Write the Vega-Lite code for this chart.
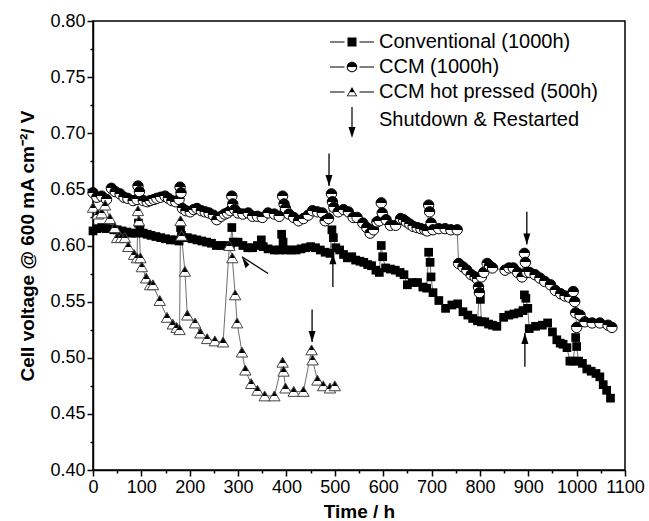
{
  "$schema": "https://vega.github.io/schema/vega-lite/v6.json",
  "width": 532,
  "height": 449,
  "autosize": {"type": "none"},
  "padding": {"left": 93, "top": 21, "right": 24, "bottom": 51},
  "background": "white",
  "config": {
    "font": "Liberation Sans",
    "view": {"stroke": "black", "strokeWidth": 1.5},
    "axis": {
      "grid": false,
      "domainColor": "black",
      "domainWidth": 1.5,
      "tickColor": "black",
      "tickWidth": 1.5,
      "labelFont": "Liberation Sans",
      "labelFontSize": 18,
      "labelColor": "black",
      "titleFont": "Liberation Sans",
      "titleFontSize": 19,
      "titleFontWeight": "bold",
      "titleColor": "black"
    }
  },
  "datasets": {
    "volt": [
      {"series":"Conventional (1000h)","t":0,"v":0.613},{"series":"Conventional (1000h)","t":8,"v":0.615},{"series":"Conventional (1000h)","t":18,"v":0.616},{"series":"Conventional (1000h)","t":27,"v":0.615},{"series":"Conventional (1000h)","t":35,"v":0.615},{"series":"Conventional (1000h)","t":43,"v":0.614},{"series":"Conventional (1000h)","t":50,"v":0.614},{"series":"Conventional (1000h)","t":60,"v":0.613},{"series":"Conventional (1000h)","t":70,"v":0.612},{"series":"Conventional (1000h)","t":80,"v":0.611},{"series":"Conventional (1000h)","t":88,"v":0.611},{"series":"Conventional (1000h)","t":94,"v":0.620},{"series":"Conventional (1000h)","t":97,"v":0.615},{"series":"Conventional (1000h)","t":104,"v":0.611},{"series":"Conventional (1000h)","t":112,"v":0.610},{"series":"Conventional (1000h)","t":120,"v":0.609},{"series":"Conventional (1000h)","t":130,"v":0.608},{"series":"Conventional (1000h)","t":140,"v":0.607},{"series":"Conventional (1000h)","t":150,"v":0.606},{"series":"Conventional (1000h)","t":160,"v":0.605},{"series":"Conventional (1000h)","t":170,"v":0.605},{"series":"Conventional (1000h)","t":178,"v":0.604},{"series":"Conventional (1000h)","t":181,"v":0.616},{"series":"Conventional (1000h)","t":183,"v":0.609},{"series":"Conventional (1000h)","t":186,"v":0.607},{"series":"Conventional (1000h)","t":195,"v":0.607},{"series":"Conventional (1000h)","t":205,"v":0.606},{"series":"Conventional (1000h)","t":215,"v":0.605},{"series":"Conventional (1000h)","t":225,"v":0.604},{"series":"Conventional (1000h)","t":235,"v":0.603},{"series":"Conventional (1000h)","t":245,"v":0.602},{"series":"Conventional (1000h)","t":255,"v":0.600},{"series":"Conventional (1000h)","t":265,"v":0.600},{"series":"Conventional (1000h)","t":275,"v":0.600},{"series":"Conventional (1000h)","t":284,"v":0.599},{"series":"Conventional (1000h)","t":287,"v":0.616},{"series":"Conventional (1000h)","t":290,"v":0.603},{"series":"Conventional (1000h)","t":300,"v":0.603},{"series":"Conventional (1000h)","t":310,"v":0.600},{"series":"Conventional (1000h)","t":320,"v":0.598},{"series":"Conventional (1000h)","t":330,"v":0.598},{"series":"Conventional (1000h)","t":340,"v":0.600},{"series":"Conventional (1000h)","t":348,"v":0.605},{"series":"Conventional (1000h)","t":352,"v":0.599},{"series":"Conventional (1000h)","t":362,"v":0.597},{"series":"Conventional (1000h)","t":375,"v":0.596},{"series":"Conventional (1000h)","t":385,"v":0.596},{"series":"Conventional (1000h)","t":390,"v":0.610},{"series":"Conventional (1000h)","t":393,"v":0.603},{"series":"Conventional (1000h)","t":400,"v":0.596},{"series":"Conventional (1000h)","t":410,"v":0.596},{"series":"Conventional (1000h)","t":420,"v":0.596},{"series":"Conventional (1000h)","t":430,"v":0.597},{"series":"Conventional (1000h)","t":440,"v":0.598},{"series":"Conventional (1000h)","t":450,"v":0.599},{"series":"Conventional (1000h)","t":460,"v":0.598},{"series":"Conventional (1000h)","t":470,"v":0.596},{"series":"Conventional (1000h)","t":480,"v":0.594},{"series":"Conventional (1000h)","t":490,"v":0.593},{"series":"Conventional (1000h)","t":494,"v":0.614},{"series":"Conventional (1000h)","t":497,"v":0.607},{"series":"Conventional (1000h)","t":502,"v":0.598},{"series":"Conventional (1000h)","t":510,"v":0.596},{"series":"Conventional (1000h)","t":518,"v":0.592},{"series":"Conventional (1000h)","t":526,"v":0.589},{"series":"Conventional (1000h)","t":535,"v":0.590},{"series":"Conventional (1000h)","t":543,"v":0.587},{"series":"Conventional (1000h)","t":552,"v":0.586},{"series":"Conventional (1000h)","t":560,"v":0.585},{"series":"Conventional (1000h)","t":568,"v":0.583},{"series":"Conventional (1000h)","t":576,"v":0.582},{"series":"Conventional (1000h)","t":585,"v":0.578},{"series":"Conventional (1000h)","t":592,"v":0.576},{"series":"Conventional (1000h)","t":596,"v":0.600},{"series":"Conventional (1000h)","t":599,"v":0.590},{"series":"Conventional (1000h)","t":605,"v":0.580},{"series":"Conventional (1000h)","t":615,"v":0.579},{"series":"Conventional (1000h)","t":625,"v":0.578},{"series":"Conventional (1000h)","t":635,"v":0.576},{"series":"Conventional (1000h)","t":643,"v":0.574},{"series":"Conventional (1000h)","t":650,"v":0.565},{"series":"Conventional (1000h)","t":660,"v":0.567},{"series":"Conventional (1000h)","t":671,"v":0.567},{"series":"Conventional (1000h)","t":682,"v":0.563},{"series":"Conventional (1000h)","t":690,"v":0.562},{"series":"Conventional (1000h)","t":694,"v":0.594},{"series":"Conventional (1000h)","t":697,"v":0.585},{"series":"Conventional (1000h)","t":699,"v":0.572},{"series":"Conventional (1000h)","t":703,"v":0.558},{"series":"Conventional (1000h)","t":715,"v":0.551},{"series":"Conventional (1000h)","t":729,"v":0.544},{"series":"Conventional (1000h)","t":742,"v":0.547},{"series":"Conventional (1000h)","t":754,"v":0.548},{"series":"Conventional (1000h)","t":765,"v":0.541},{"series":"Conventional (1000h)","t":775,"v":0.538},{"series":"Conventional (1000h)","t":785,"v":0.535},{"series":"Conventional (1000h)","t":795,"v":0.533},{"series":"Conventional (1000h)","t":799,"v":0.559},{"series":"Conventional (1000h)","t":801,"v":0.552},{"series":"Conventional (1000h)","t":803,"v":0.532},{"series":"Conventional (1000h)","t":810,"v":0.532},{"series":"Conventional (1000h)","t":818,"v":0.530},{"series":"Conventional (1000h)","t":826,"v":0.529},{"series":"Conventional (1000h)","t":835,"v":0.528},{"series":"Conventional (1000h)","t":849,"v":0.536},{"series":"Conventional (1000h)","t":860,"v":0.538},{"series":"Conventional (1000h)","t":870,"v":0.539},{"series":"Conventional (1000h)","t":880,"v":0.540},{"series":"Conventional (1000h)","t":889,"v":0.542},{"series":"Conventional (1000h)","t":892,"v":0.556},{"series":"Conventional (1000h)","t":895,"v":0.553},{"series":"Conventional (1000h)","t":899,"v":0.544},{"series":"Conventional (1000h)","t":902,"v":0.526},{"series":"Conventional (1000h)","t":915,"v":0.528},{"series":"Conventional (1000h)","t":929,"v":0.529},{"series":"Conventional (1000h)","t":940,"v":0.531},{"series":"Conventional (1000h)","t":950,"v":0.523},{"series":"Conventional (1000h)","t":959,"v":0.516},{"series":"Conventional (1000h)","t":966,"v":0.513},{"series":"Conventional (1000h)","t":972,"v":0.512},{"series":"Conventional (1000h)","t":980,"v":0.509},{"series":"Conventional (1000h)","t":986,"v":0.497},{"series":"Conventional (1000h)","t":993,"v":0.497},{"series":"Conventional (1000h)","t":998,"v":0.518},{"series":"Conventional (1000h)","t":1000,"v":0.510},{"series":"Conventional (1000h)","t":1004,"v":0.497},{"series":"Conventional (1000h)","t":1012,"v":0.495},{"series":"Conventional (1000h)","t":1021,"v":0.490},{"series":"Conventional (1000h)","t":1030,"v":0.488},{"series":"Conventional (1000h)","t":1040,"v":0.486},{"series":"Conventional (1000h)","t":1048,"v":0.483},{"series":"Conventional (1000h)","t":1055,"v":0.476},{"series":"Conventional (1000h)","t":1062,"v":0.471},{"series":"Conventional (1000h)","t":1070,"v":0.464},
      {"series":"CCM (1000h)","t":0,"v":0.647},{"series":"CCM (1000h)","t":8,"v":0.643},{"series":"CCM (1000h)","t":18,"v":0.644},{"series":"CCM (1000h)","t":28,"v":0.641},{"series":"CCM (1000h)","t":38,"v":0.651},{"series":"CCM (1000h)","t":46,"v":0.648},{"series":"CCM (1000h)","t":56,"v":0.646},{"series":"CCM (1000h)","t":64,"v":0.643},{"series":"CCM (1000h)","t":72,"v":0.642},{"series":"CCM (1000h)","t":83,"v":0.640},{"series":"CCM (1000h)","t":91,"v":0.641},{"series":"CCM (1000h)","t":93,"v":0.653},{"series":"CCM (1000h)","t":96,"v":0.648},{"series":"CCM (1000h)","t":104,"v":0.640},{"series":"CCM (1000h)","t":112,"v":0.639},{"series":"CCM (1000h)","t":118,"v":0.640},{"series":"CCM (1000h)","t":126,"v":0.641},{"series":"CCM (1000h)","t":132,"v":0.642},{"series":"CCM (1000h)","t":140,"v":0.643},{"series":"CCM (1000h)","t":149,"v":0.644},{"series":"CCM (1000h)","t":156,"v":0.642},{"series":"CCM (1000h)","t":163,"v":0.640},{"series":"CCM (1000h)","t":171,"v":0.639},{"series":"CCM (1000h)","t":178,"v":0.641},{"series":"CCM (1000h)","t":180,"v":0.652},{"series":"CCM (1000h)","t":182,"v":0.647},{"series":"CCM (1000h)","t":185,"v":0.633},{"series":"CCM (1000h)","t":192,"v":0.631},{"series":"CCM (1000h)","t":201,"v":0.630},{"series":"CCM (1000h)","t":208,"v":0.632},{"series":"CCM (1000h)","t":215,"v":0.633},{"series":"CCM (1000h)","t":224,"v":0.631},{"series":"CCM (1000h)","t":232,"v":0.630},{"series":"CCM (1000h)","t":240,"v":0.629},{"series":"CCM (1000h)","t":249,"v":0.627},{"series":"CCM (1000h)","t":256,"v":0.623},{"series":"CCM (1000h)","t":265,"v":0.626},{"series":"CCM (1000h)","t":272,"v":0.628},{"series":"CCM (1000h)","t":278,"v":0.629},{"series":"CCM (1000h)","t":284,"v":0.631},{"series":"CCM (1000h)","t":287,"v":0.644},{"series":"CCM (1000h)","t":289,"v":0.637},{"series":"CCM (1000h)","t":293,"v":0.632},{"series":"CCM (1000h)","t":300,"v":0.629},{"series":"CCM (1000h)","t":310,"v":0.628},{"series":"CCM (1000h)","t":321,"v":0.629},{"series":"CCM (1000h)","t":330,"v":0.626},{"series":"CCM (1000h)","t":340,"v":0.626},{"series":"CCM (1000h)","t":350,"v":0.625},{"series":"CCM (1000h)","t":362,"v":0.629},{"series":"CCM (1000h)","t":375,"v":0.628},{"series":"CCM (1000h)","t":385,"v":0.626},{"series":"CCM (1000h)","t":392,"v":0.644},{"series":"CCM (1000h)","t":395,"v":0.637},{"series":"CCM (1000h)","t":398,"v":0.633},{"series":"CCM (1000h)","t":405,"v":0.628},{"series":"CCM (1000h)","t":415,"v":0.625},{"series":"CCM (1000h)","t":425,"v":0.622},{"series":"CCM (1000h)","t":435,"v":0.624},{"series":"CCM (1000h)","t":445,"v":0.627},{"series":"CCM (1000h)","t":454,"v":0.631},{"series":"CCM (1000h)","t":464,"v":0.630},{"series":"CCM (1000h)","t":474,"v":0.629},{"series":"CCM (1000h)","t":480,"v":0.622},{"series":"CCM (1000h)","t":487,"v":0.624},{"series":"CCM (1000h)","t":493,"v":0.646},{"series":"CCM (1000h)","t":495,"v":0.639},{"series":"CCM (1000h)","t":498,"v":0.634},{"series":"CCM (1000h)","t":507,"v":0.630},{"series":"CCM (1000h)","t":518,"v":0.632},{"series":"CCM (1000h)","t":528,"v":0.630},{"series":"CCM (1000h)","t":538,"v":0.625},{"series":"CCM (1000h)","t":546,"v":0.625},{"series":"CCM (1000h)","t":558,"v":0.620},{"series":"CCM (1000h)","t":566,"v":0.616},{"series":"CCM (1000h)","t":573,"v":0.611},{"series":"CCM (1000h)","t":580,"v":0.614},{"series":"CCM (1000h)","t":587,"v":0.621},{"series":"CCM (1000h)","t":592,"v":0.622},{"series":"CCM (1000h)","t":596,"v":0.638},{"series":"CCM (1000h)","t":598,"v":0.629},{"series":"CCM (1000h)","t":606,"v":0.623},{"series":"CCM (1000h)","t":615,"v":0.618},{"series":"CCM (1000h)","t":626,"v":0.618},{"series":"CCM (1000h)","t":636,"v":0.624},{"series":"CCM (1000h)","t":642,"v":0.623},{"series":"CCM (1000h)","t":648,"v":0.621},{"series":"CCM (1000h)","t":655,"v":0.619},{"series":"CCM (1000h)","t":662,"v":0.617},{"series":"CCM (1000h)","t":670,"v":0.616},{"series":"CCM (1000h)","t":678,"v":0.615},{"series":"CCM (1000h)","t":686,"v":0.614},{"series":"CCM (1000h)","t":691,"v":0.613},{"series":"CCM (1000h)","t":694,"v":0.636},{"series":"CCM (1000h)","t":696,"v":0.630},{"series":"CCM (1000h)","t":699,"v":0.620},{"series":"CCM (1000h)","t":703,"v":0.614},{"series":"CCM (1000h)","t":715,"v":0.615},{"series":"CCM (1000h)","t":728,"v":0.615},{"series":"CCM (1000h)","t":740,"v":0.614},{"series":"CCM (1000h)","t":753,"v":0.614},{"series":"CCM (1000h)","t":756,"v":0.584},{"series":"CCM (1000h)","t":765,"v":0.581},{"series":"CCM (1000h)","t":773,"v":0.578},{"series":"CCM (1000h)","t":782,"v":0.574},{"series":"CCM (1000h)","t":790,"v":0.572},{"series":"CCM (1000h)","t":795,"v":0.570},{"series":"CCM (1000h)","t":797,"v":0.563},{"series":"CCM (1000h)","t":799,"v":0.558},{"series":"CCM (1000h)","t":803,"v":0.572},{"series":"CCM (1000h)","t":808,"v":0.576},{"series":"CCM (1000h)","t":815,"v":0.584},{"series":"CCM (1000h)","t":820,"v":0.582},{"series":"CCM (1000h)","t":826,"v":0.580},{"series":"CCM (1000h)","t":852,"v":0.578},{"series":"CCM (1000h)","t":860,"v":0.580},{"series":"CCM (1000h)","t":869,"v":0.580},{"series":"CCM (1000h)","t":878,"v":0.576},{"series":"CCM (1000h)","t":887,"v":0.572},{"series":"CCM (1000h)","t":892,"v":0.593},{"series":"CCM (1000h)","t":894,"v":0.585},{"series":"CCM (1000h)","t":897,"v":0.576},{"series":"CCM (1000h)","t":903,"v":0.576},{"series":"CCM (1000h)","t":914,"v":0.574},{"series":"CCM (1000h)","t":924,"v":0.571},{"series":"CCM (1000h)","t":934,"v":0.568},{"series":"CCM (1000h)","t":946,"v":0.565},{"series":"CCM (1000h)","t":956,"v":0.560},{"series":"CCM (1000h)","t":967,"v":0.557},{"series":"CCM (1000h)","t":976,"v":0.555},{"series":"CCM (1000h)","t":985,"v":0.554},{"series":"CCM (1000h)","t":993,"v":0.559},{"series":"CCM (1000h)","t":996,"v":0.550},{"series":"CCM (1000h)","t":998,"v":0.540},{"series":"CCM (1000h)","t":1000,"v":0.527},{"series":"CCM (1000h)","t":1007,"v":0.538},{"series":"CCM (1000h)","t":1017,"v":0.532},{"series":"CCM (1000h)","t":1032,"v":0.531},{"series":"CCM (1000h)","t":1048,"v":0.531},{"series":"CCM (1000h)","t":1065,"v":0.529},{"series":"CCM (1000h)","t":1073,"v":0.527},
      {"series":"CCM hot pressed (500h)","t":0,"v":0.634},{"series":"CCM hot pressed (500h)","t":10,"v":0.628},{"series":"CCM hot pressed (500h)","t":18,"v":0.629},{"series":"CCM hot pressed (500h)","t":25,"v":0.636},{"series":"CCM hot pressed (500h)","t":35,"v":0.624},{"series":"CCM hot pressed (500h)","t":45,"v":0.616},{"series":"CCM hot pressed (500h)","t":50,"v":0.607},{"series":"CCM hot pressed (500h)","t":58,"v":0.607},{"series":"CCM hot pressed (500h)","t":66,"v":0.607},{"series":"CCM hot pressed (500h)","t":73,"v":0.599},{"series":"CCM hot pressed (500h)","t":85,"v":0.592},{"series":"CCM hot pressed (500h)","t":91,"v":0.589},{"series":"CCM hot pressed (500h)","t":93,"v":0.631},{"series":"CCM hot pressed (500h)","t":95,"v":0.622},{"series":"CCM hot pressed (500h)","t":98,"v":0.589},{"series":"CCM hot pressed (500h)","t":101,"v":0.581},{"series":"CCM hot pressed (500h)","t":110,"v":0.571},{"series":"CCM hot pressed (500h)","t":118,"v":0.565},{"series":"CCM hot pressed (500h)","t":124,"v":0.565},{"series":"CCM hot pressed (500h)","t":138,"v":0.551},{"series":"CCM hot pressed (500h)","t":153,"v":0.536},{"series":"CCM hot pressed (500h)","t":165,"v":0.530},{"series":"CCM hot pressed (500h)","t":173,"v":0.527},{"series":"CCM hot pressed (500h)","t":179,"v":0.525},{"series":"CCM hot pressed (500h)","t":181,"v":0.622},{"series":"CCM hot pressed (500h)","t":183,"v":0.609},{"series":"CCM hot pressed (500h)","t":190,"v":0.577},{"series":"CCM hot pressed (500h)","t":195,"v":0.538},{"series":"CCM hot pressed (500h)","t":211,"v":0.531},{"series":"CCM hot pressed (500h)","t":222,"v":0.522},{"series":"CCM hot pressed (500h)","t":236,"v":0.517},{"series":"CCM hot pressed (500h)","t":252,"v":0.515},{"series":"CCM hot pressed (500h)","t":269,"v":0.514},{"series":"CCM hot pressed (500h)","t":282,"v":0.600},{"series":"CCM hot pressed (500h)","t":288,"v":0.589},{"series":"CCM hot pressed (500h)","t":294,"v":0.556},{"series":"CCM hot pressed (500h)","t":298,"v":0.531},{"series":"CCM hot pressed (500h)","t":308,"v":0.505},{"series":"CCM hot pressed (500h)","t":315,"v":0.489},{"series":"CCM hot pressed (500h)","t":327,"v":0.477},{"series":"CCM hot pressed (500h)","t":340,"v":0.471},{"series":"CCM hot pressed (500h)","t":355,"v":0.466},{"series":"CCM hot pressed (500h)","t":375,"v":0.466},{"series":"CCM hot pressed (500h)","t":392,"v":0.496},{"series":"CCM hot pressed (500h)","t":394,"v":0.488},{"series":"CCM hot pressed (500h)","t":398,"v":0.473},{"series":"CCM hot pressed (500h)","t":415,"v":0.470},{"series":"CCM hot pressed (500h)","t":435,"v":0.470},{"series":"CCM hot pressed (500h)","t":452,"v":0.507},{"series":"CCM hot pressed (500h)","t":454,"v":0.498},{"series":"CCM hot pressed (500h)","t":464,"v":0.480},{"series":"CCM hot pressed (500h)","t":476,"v":0.475},{"series":"CCM hot pressed (500h)","t":490,"v":0.473},{"series":"CCM hot pressed (500h)","t":500,"v":0.475}
    ],
    "arrows": [
      {"dir":"down","t":488,"v":0.682,"t2":488,"v2":0.653},
      {"dir":"up","t":496,"v":0.563,"t2":496,"v2":0.593},
      {"dir":"diag","t":362,"v":0.575,"t2":308,"v2":0.590},
      {"dir":"down","t":453,"v":0.543,"t2":453,"v2":0.514},
      {"dir":"down","t":897,"v":0.630,"t2":897,"v2":0.601},
      {"dir":"up","t":893,"v":0.492,"t2":893,"v2":0.522}
    ]
  },
  "encoding": {
    "x": {
      "field": "t", "type": "quantitative",
      "scale": {"domain": [0, 1100], "nice": false, "zero": false},
      "axis": {
        "title": "Time / h",
        "values": [0,50,100,150,200,250,300,350,400,450,500,550,600,650,700,750,800,850,900,950,1000,1050,1100],
        "format": "d",
        "labelExpr": "datum.value % 100 === 0 ? datum.label : ''",
        "tickSize": {"condition": {"test": "datum.value % 100 !== 0", "value": 3}, "value": 6},
        "labelPadding": 2,
        "titlePadding": 6,
        "labelFlush": false,
        "labelOverlap": false
      }
    },
    "y": {
      "field": "v", "type": "quantitative",
      "scale": {"domain": [0.4, 0.8], "nice": false, "zero": false},
      "axis": {
        "title": "Cell voltage @ 600 mA cm⁻²/ V",
        "values": [0.4,0.425,0.45,0.475,0.5,0.525,0.55,0.575,0.6,0.625,0.65,0.675,0.7,0.725,0.75,0.775,0.8],
        "format": ".2f",
        "labelExpr": "abs(datum.value*20 - round(datum.value*20)) < 0.001 ? datum.label : ''",
        "tickSize": {"condition": {"test": "abs(datum.value*20 - round(datum.value*20)) > 0.001", "value": 3}, "value": 6},
        "labelPadding": 2,
        "titlePadding": 12,
        "labelFlush": false,
        "labelOverlap": false
      }
    }
  },
  "layer": [
    {
      "data": {"name": "volt"},
      "mark": {"type": "line", "color": "#6e6e6e", "strokeWidth": 1},
      "encoding": {"detail": {"field": "series"}}
    },
    {
      "data": {"name": "volt"},
      "transform": [{"filter": "datum.series === 'Conventional (1000h)'"}],
      "mark": {"type": "point", "shape": "square", "filled": true, "color": "black", "size": 76, "opacity": 1}
    },
    {
      "data": {"name": "volt"},
      "transform": [{"filter": "datum.series === 'CCM (1000h)'"}],
      "mark": {
        "type": "point", "shape": "circle", "size": 108, "opacity": 1, "filled": true,
        "fill": {"gradient": "linear", "x1": 0, "y1": 0, "x2": 0, "y2": 1,
                 "stops": [{"offset": 0, "color": "black"}, {"offset": 0.5, "color": "black"}, {"offset": 0.5, "color": "white"}, {"offset": 1, "color": "white"}]},
        "stroke": "black", "strokeWidth": 1
      }
    },
    {
      "data": {"name": "volt"},
      "transform": [{"filter": "datum.series === 'CCM hot pressed (500h)'"}],
      "mark": {
        "type": "point", "shape": "triangle-up", "size": 130, "opacity": 1, "filled": true,
        "fill": {"gradient": "linear", "x1": 0, "y1": 0, "x2": 0, "y2": 1,
                 "stops": [{"offset": 0, "color": "black"}, {"offset": 0.55, "color": "black"}, {"offset": 0.55, "color": "white"}, {"offset": 1, "color": "white"}]},
        "stroke": "#444444", "strokeWidth": 1
      }
    },
    {
      "data": {"name": "arrows"},
      "mark": {"type": "rule", "color": "black", "strokeWidth": 1.3},
      "encoding": {
        "x": {"field": "t", "type": "quantitative"},
        "y": {"field": "v", "type": "quantitative"},
        "x2": {"field": "t2"},
        "y2": {"field": "v2"}
      }
    },
    {
      "data": {"name": "arrows"},
      "transform": [{"filter": "datum.dir === 'down'"}],
      "mark": {"type": "point", "shape": "M0,0L-0.7,-2.2L0.7,-2.2Z", "filled": true, "color": "black", "size": 100, "opacity": 1, "strokeWidth": 0},
      "encoding": {
        "x": {"field": "t2", "type": "quantitative"},
        "y": {"field": "v2", "type": "quantitative"}
      }
    },
    {
      "data": {"name": "arrows"},
      "transform": [{"filter": "datum.dir === 'up'"}],
      "mark": {"type": "point", "shape": "M0,0L-0.7,2.2L0.7,2.2Z", "filled": true, "color": "black", "size": 100, "opacity": 1, "strokeWidth": 0},
      "encoding": {
        "x": {"field": "t2", "type": "quantitative"},
        "y": {"field": "v2", "type": "quantitative"}
      }
    },
    {
      "data": {"name": "arrows"},
      "transform": [{"filter": "datum.dir === 'diag'"}],
      "mark": {"type": "point", "shape": "M0,0L1.47,1.55L0.7,2.28Z", "filled": true, "color": "black", "size": 100, "opacity": 1, "strokeWidth": 0},
      "encoding": {
        "x": {"field": "t2", "type": "quantitative"},
        "y": {"field": "v2", "type": "quantitative"}
      }
    },
    {
      "data": {"name": "volt"},
      "transform": [{"filter": "datum.t < 0"}],
      "mark": {"type": "point", "filled": true, "color": "black", "size": 100, "strokeWidth": 0},
      "encoding": {
        "shape": {
          "field": "series", "type": "nominal",
          "scale": {
            "domain": ["Conventional (1000h)", "CCM (1000h)", "CCM hot pressed (500h)", "Shutdown & Restarted"],
            "range": [
              "M-4.4,-0.1L-1.5,-0.1L-1.5,0.1L-4.4,0.1Z M1.5,-0.1L4.4,-0.1L4.4,0.1L1.5,0.1Z M-0.9,-0.9L0.9,-0.9L0.9,0.9L-0.9,0.9Z",
              "M-4.4,-0.1L-1.5,-0.1L-1.5,0.1L-4.4,0.1Z M1.5,-0.1L4.4,-0.1L4.4,0.1L1.5,0.1Z M-1.05,0A1.05,1.05 0 0 1 1.05,0Z M1.05,0A1.05,1.05 0 0 1 -1.05,0L-0.85,0A0.85,0.85 0 0 0 0.85,0Z",
              "M-4.4,-0.1L-1.5,-0.1L-1.5,0.1L-4.4,0.1Z M1.5,-0.1L4.4,-0.1L4.4,0.1L1.5,0.1Z M0,-1L0.525,-0.075L-0.525,-0.075Z M0.525,-0.075L1.05,0.85L-1.05,0.85L-0.525,-0.075Z M-0.42,0.04L-0.8,0.7L0.8,0.7L0.42,0.04Z",
              "M-0.12,-2.6L0.12,-2.6L0.12,1.6L-0.12,1.6Z M-0.7,1.4L0.7,1.4L0,3.6Z"
            ]
          },
          "legend": {
            "orient": "none",
            "legendX": 249,
            "legendY": 11,
            "title": null,
            "padding": 0,
            "labelFont": "Liberation Sans",
            "labelFontSize": 20,
            "labelColor": "black",
            "labelLimit": 400,
            "labelOffset": 17,
            "rowPadding": 5,
            "symbolSize": 100,
            "symbolStrokeWidth": 0,
            "symbolFillColor": "black",
            "symbolOpacity": 1
          }
        }
      }
    }
  ]
}
